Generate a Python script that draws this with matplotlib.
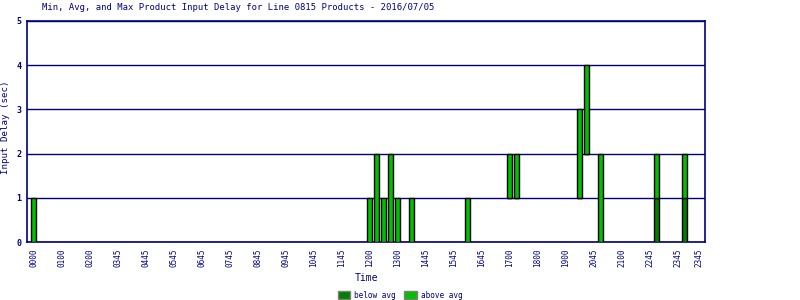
import numpy as np
from matplotlib import pyplot as plt
from matplotlib.patches import Patch

"DATA"
n_slots = 96
tick_pos = [0, 4, 8, 12, 16, 20, 24, 28, 32, 36, 40, 44, 48, 52, 56, 60, 64, 68, 72, 76, 80, 84, 88, 92, 95]
tick_labels = ['0000', '0100', '0200', '0345', '0445', '0545', '0645', '0745', '0845', '0945',
               '1045', '1145', '1200', '1300', '1445', '1545', '1645', '1700', '1800', '1900',
               '2045', '2100', '2245', '2345', '2345']
slot = [0, 48, 49, 50, 51, 52, 54, 62, 68, 69, 78, 79, 81, 89, 93]
d_min = [0, 0, 0, 0, 0, 0, 0, 0, 1, 1, 1, 2, 0, 0, 0]
d_avg = [0, 0, 0, 0, 0, 0, 0, 0, 1, 1, 1, 2, 0, 1, 1]
d_max = [1, 1, 2, 1, 2, 1, 1, 1, 2, 2, 3, 4, 2, 2, 2]

navy = '#000080'
dark = '#008000'
bright = '#00c000'
plt.rcParams['font.family'] = 'DejaVu Sans Mono'

fig = plt.figure(figsize=(8, 3), dpi=100)
ax = fig.add_axes([27/800, 1-242/300, 678/800, 221/300])

slot = np.array(slot)
d_min = np.array(d_min); d_avg = np.array(d_avg); d_max = np.array(d_max)
w = 0.62
ax.bar(slot, d_avg - d_min, bottom=d_min, width=w, color=dark, edgecolor='black', linewidth=1, zorder=3)
ax.bar(slot, d_max - d_avg, bottom=d_avg, width=w, color=bright, edgecolor='black', linewidth=1, zorder=3)

ax.set_xlim(-0.93, n_slots - 1 + 0.93)
ax.set_ylim(0, 5)
ax.set_yticks(range(6))
ax.set_yticklabels([str(i) for i in range(6)], fontsize=6, color=navy, fontweight='bold')
ax.set_xticks(tick_pos)
ax.set_xticklabels(tick_labels, rotation=90, fontsize=5.5, color=navy)
ax.tick_params(axis='x', length=0, pad=5)
ax.tick_params(axis='y', length=0, pad=4)
ax.yaxis.grid(True, color=navy, linewidth=1, zorder=1)
ax.set_axisbelow(True)
for s in ax.spines.values():
    s.set_color(navy)
    s.set_linewidth(1.2)

ax.set_xlabel('Time', fontsize=7, color=navy, labelpad=4)
fig.text(6/800, 1-127/300, 'Input Delay (sec)', rotation=90, ha='center', va='center',
         fontsize=6.6, color=navy)
fig.text(238/800, 1-8/300, 'Min, Avg, and Max Product Input Delay for Line 0815 Products - 2016/07/05',
         ha='center', va='center', fontsize=6.4, color=navy)

handles = [Patch(facecolor=dark, edgecolor='gray', label='below avg'),
           Patch(facecolor=bright, edgecolor='gray', label='above avg')]
fig.legend(handles=handles, loc='center', bbox_to_anchor=(400/800, 1-295/300), ncol=2, frameon=False,
           fontsize=5.6, handlelength=1.6, handleheight=1.1, columnspacing=1.1, handletextpad=0.5,
           labelcolor=navy, borderpad=0)

fig.savefig('out.png', dpi=100)
